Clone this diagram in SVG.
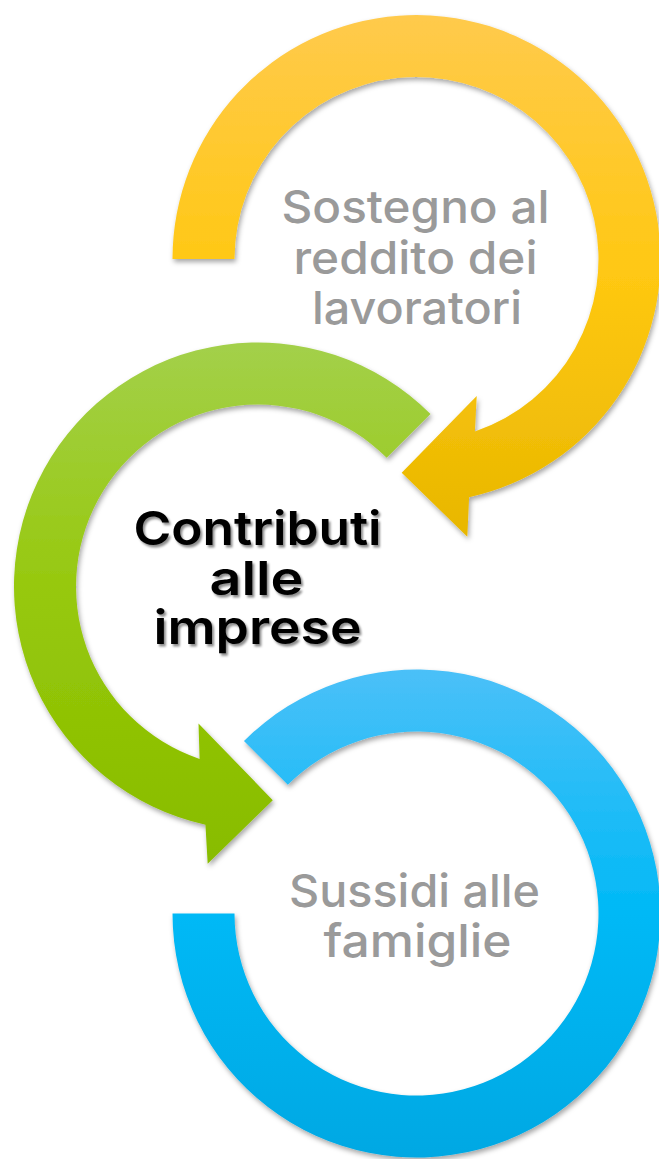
<svg xmlns="http://www.w3.org/2000/svg" width="659" height="1159" viewBox="0 0 659 1159">
<style>
.lbl{font-family:Inter,"Open Sans","Liberation Sans",sans-serif;font-size:45px;font-weight:500;fill:#9A9A9A;text-anchor:middle}
.main{font-family:Inter,"Open Sans","Liberation Sans",sans-serif;font-size:47px;font-weight:600;fill:#000000;text-anchor:middle}
.ring{filter:url(#sh)}
</style>
<defs>
<linearGradient id="gy" x1="0" y1="0" x2="0" y2="1">
<stop offset="0" stop-color="#FFCA4C"/>
<stop offset="0.5" stop-color="#FFC812"/>
<stop offset="1" stop-color="#E8B700"/>
</linearGradient>
<linearGradient id="gg" x1="0" y1="0" x2="0" y2="1">
<stop offset="0" stop-color="#A3D04A"/>
<stop offset="0.5" stop-color="#96C80A"/>
<stop offset="1" stop-color="#88BC00"/>
</linearGradient>
<linearGradient id="gb" x1="0" y1="0" x2="0" y2="1">
<stop offset="0" stop-color="#4BC0F8"/>
<stop offset="0.5" stop-color="#00B9F6"/>
<stop offset="1" stop-color="#00A8E3"/>
</linearGradient>
<filter id="sh" x="-10%" y="-10%" width="120%" height="120%">
<feDropShadow dx="1.5" dy="3" stdDeviation="2.5" flood-color="#000" flood-opacity="0.35"/>
</filter>
<filter id="tsh" x="-10%" y="-20%" width="120%" height="140%">
<feDropShadow dx="2" dy="2.5" stdDeviation="1.2" flood-color="#000" flood-opacity="0.45"/>
</filter>
</defs>
<g id="connectors"></g>
<g id="node-sostegno">
<path class="ring" fill="url(#gy)" d="M172.5 259 A244 244 0 1 1 469.1 497.3 L467.3 536.7 L401.7 472.7 L476.7 396 L474.9 431.4 A182 182 0 1 0 234.5 259 Z"/>
<text class="lbl" x="415.5" y="223" textLength="268" lengthAdjust="spacingAndGlyphs">Sostegno al</text>
<text class="lbl" x="415.5" y="273.5" textLength="244" lengthAdjust="spacingAndGlyphs">reddito dei</text>
<text class="lbl" x="417" y="323.5" textLength="210" lengthAdjust="spacingAndGlyphs">lavoratori</text>
</g>
<g id="node-contributi">
<path class="ring" fill="url(#gg)" d="M430.53 413.97 A244 244 0 1 0 205.44 824.77 L207.7 863.8 L272.8 800.2 L198.5 723.4 L199.6 758.9 A182 182 0 1 1 386.69 457.81 Z"/>
<g filter="url(#tsh)">
<text class="main" x="257.5" y="545" textLength="248" lengthAdjust="spacingAndGlyphs">Contributi</text>
<text class="main" x="256.5" y="595" textLength="94" lengthAdjust="spacingAndGlyphs">alle</text>
<text class="main" x="257.5" y="644" textLength="208" lengthAdjust="spacingAndGlyphs">imprese</text>
</g>
</g>
<g id="node-sussidi">
<path class="ring" fill="url(#gb)" d="M243.97 740.97 A244 244 0 1 1 172.5 913.5 L234.5 913.5 A182 182 0 1 0 287.81 784.81 Z"/>
<text class="lbl" x="414.5" y="907" textLength="251" lengthAdjust="spacingAndGlyphs">Sussidi alle</text>
<text class="lbl" x="417.5" y="957" textLength="188" lengthAdjust="spacingAndGlyphs">famiglie</text>
</g>
</svg>
